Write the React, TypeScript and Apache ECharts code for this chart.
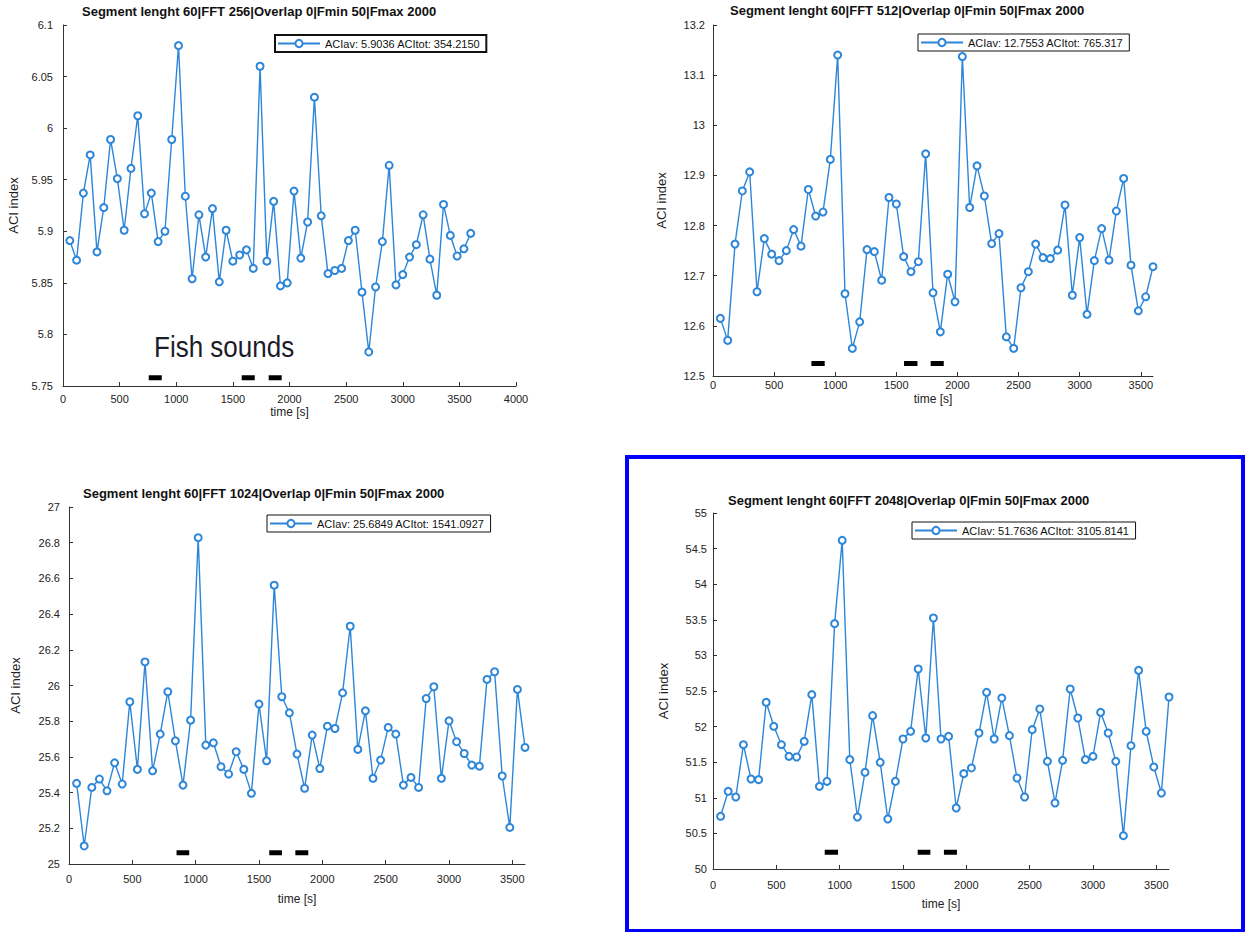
import React, { useEffect, useRef } from "react";
import * as echarts from "echarts";

const times = [60, 120, 180, 240, 300, 360, 420, 480, 540, 600, 660, 720, 780, 840, 900, 960, 1020, 1080, 1140, 1200, 1260, 1320, 1380, 1440, 1500, 1560, 1620, 1680, 1740, 1800, 1860, 1920, 1980, 2040, 2100, 2160, 2220, 2280, 2340, 2400, 2460, 2520, 2580, 2640, 2700, 2760, 2820, 2880, 2940, 3000, 3060, 3120, 3180, 3240, 3300, 3360, 3420, 3480, 3540, 3600];

const aci256 = [5.891, 5.872, 5.937, 5.974, 5.880, 5.923, 5.989, 5.951, 5.901, 5.961, 6.012, 5.917, 5.937, 5.890, 5.900, 5.989, 6.080, 5.934, 5.854, 5.916, 5.875, 5.922, 5.851, 5.901, 5.871, 5.877, 5.882, 5.864, 6.060, 5.871, 5.929, 5.847, 5.850, 5.939, 5.874, 5.909, 6.030, 5.915, 5.859, 5.862, 5.864, 5.891, 5.901, 5.841, 5.783, 5.846, 5.890, 5.964, 5.848, 5.858, 5.875, 5.887, 5.916, 5.873, 5.838, 5.926, 5.896, 5.876, 5.883, 5.898];

const aci512 = [12.615, 12.571, 12.763, 12.869, 12.907, 12.668, 12.774, 12.743, 12.730, 12.750, 12.792, 12.759, 12.872, 12.819, 12.827, 12.932, 13.140, 12.664, 12.555, 12.608, 12.752, 12.748, 12.691, 12.856, 12.843, 12.738, 12.708, 12.728, 12.943, 12.666, 12.588, 12.703, 12.648, 13.137, 12.836, 12.919, 12.859, 12.764, 12.784, 12.578, 12.555, 12.676, 12.708, 12.763, 12.736, 12.734, 12.751, 12.841, 12.661, 12.776, 12.623, 12.730, 12.794, 12.731, 12.829, 12.894, 12.721, 12.630, 12.658, 12.718];

const aci1024 = [25.452, 25.101, 25.429, 25.476, 25.410, 25.567, 25.448, 25.909, 25.530, 26.132, 25.522, 25.728, 25.965, 25.690, 25.442, 25.806, 26.828, 25.666, 25.679, 25.545, 25.504, 25.629, 25.530, 25.396, 25.896, 25.578, 26.562, 25.937, 25.847, 25.616, 25.424, 25.722, 25.535, 25.772, 25.759, 25.959, 26.332, 25.642, 25.858, 25.480, 25.582, 25.765, 25.728, 25.442, 25.485, 25.429, 25.927, 25.993, 25.480, 25.802, 25.685, 25.619, 25.554, 25.548, 26.034, 26.077, 25.493, 25.205, 25.978, 25.653];

const aci2048 = [50.740, 51.091, 51.011, 51.746, 51.264, 51.255, 52.341, 52.004, 51.746, 51.582, 51.573, 51.793, 52.449, 51.161, 51.231, 53.446, 54.616, 51.536, 50.730, 51.358, 52.154, 51.498, 50.702, 51.231, 51.826, 51.934, 52.809, 51.840, 53.525, 51.826, 51.863, 50.857, 51.339, 51.419, 51.910, 52.481, 51.826, 52.402, 51.873, 51.278, 51.011, 51.957, 52.247, 51.512, 50.927, 51.526, 52.528, 52.121, 51.536, 51.583, 52.200, 51.910, 51.512, 50.468, 51.732, 52.790, 51.934, 51.433, 51.067, 52.416];

const titles = [
  "Segment lenght 60|FFT 256|Overlap 0|Fmin 50|Fmax 2000",
  "Segment lenght 60|FFT 512|Overlap 0|Fmin 50|Fmax 2000",
  "Segment lenght 60|FFT 1024|Overlap 0|Fmin 50|Fmax 2000",
  "Segment lenght 60|FFT 2048|Overlap 0|Fmin 50|Fmax 2000",
];

const legendLabels = [
  "ACIav: 5.9036 ACItot: 354.2150",
  "ACIav: 12.7553 ACItot: 765.317",
  "ACIav: 25.6849 ACItot: 1541.0927",
  "ACIav: 51.7636 ACItot: 3105.8141",
];

const yMins = [5.75, 12.5, 25, 50];
const yMaxs = [6.1, 13.2, 27, 55];
const yIntervals = [0.05, 0.1, 0.2, 0.5];
const xMaxs = [4000, 3600, 3600, 3600];
const xInterval = 500;

const fishSounds = [
  [[757, 872], [1578, 1693], [1816, 1931]],
  [[805, 914], [1563, 1673], [1781, 1888]],
  [[849, 949], [1581, 1681], [1787, 1889]],
  [[882, 987], [1616, 1716], [1823, 1926]],
];
const fishLevels = [5.758, 12.525, 25.063, 50.234];

const xAxisName = "time [s]";
const yAxisName = "ACI index";
const annotation = "Fish sounds";

const seriesValues = [aci256, aci512, aci1024, aci2048];

// layout (pixels)
const grids = [
  { left: 63, top: 25, width: 453, height: 361 },
  { left: 713, top: 25, width: 440, height: 351 },
  { left: 69, top: 507, width: 456, height: 357 },
  { left: 713, top: 513, width: 456, height: 356 },
];
const titlePos = [
  { left: 82, top: 5 },
  { left: 730, top: 4 },
  { left: 83, top: 487 },
  { left: 728, top: 494 },
];
const legendPos = [
  { left: 275, top: 35 },
  { left: 918, top: 34 },
  { left: 267, top: 515 },
  { left: 912, top: 522 },
];
const xLabelMargin = [7, 3, 9, 10];
const xNameGap = [20, 17, 29, 29];
const yLabelMargin = [10, 8, 9, 6];
const yNameGap = [43, 45, 47, 43];

const LINE = "#2d86d8";
const FONT = "'Liberation Sans', Arial, sans-serif";

export default function App() {
  const ref = useRef<HTMLDivElement>(null);
  useEffect(() => {
    if (!ref.current) return;
    const chart = echarts.init(ref.current, undefined, { renderer: "svg" });

    const series: any[] = [];
    seriesValues.forEach((vals, i) => {
      series.push({
        name: legendLabels[i],
        type: "line",
        xAxisIndex: i,
        yAxisIndex: i,
        data: times.map((t, k) => [t, vals[k]]),
        symbol: "emptyCircle",
        symbolSize: 7,
        lineStyle: { color: LINE, width: 1.4 },
        itemStyle: { color: LINE, borderColor: LINE, borderWidth: 1.2 },
        z: 3,
      });
      fishSounds[i].forEach((iv) => {
        series.push({
          name: "fish" + i + "_" + iv[0],
          type: "line",
          xAxisIndex: i,
          yAxisIndex: i,
          data: [
            [iv[0], fishLevels[i]],
            [iv[1], fishLevels[i]],
          ],
          symbol: "none",
          silent: true,
          lineStyle: { color: "#000", width: 5, cap: "butt" },
          z: 2,
        });
      });
    });

    const option: any = {
      animation: false,
      backgroundColor: "#fff",
      textStyle: { fontFamily: FONT },
      title: titles.map((t, i) => ({
        text: t,
        left: titlePos[i].left,
        top: titlePos[i].top,
        padding: 0,
        textStyle: { fontSize: 13, fontWeight: "bold", color: "#111", fontFamily: FONT },
      })),
      legend: legendLabels.map((l, i) => ({
        data: [l],
        left: legendPos[i].left,
        top: legendPos[i].top,
        orient: "horizontal",
        borderColor: "#111",
        borderWidth: i === 0 ? 2 : 1,
        padding: [3, 6, 3, 2],
        itemWidth: 42,
        itemHeight: 9,
        itemGap: 4,
        selectedMode: false,
        textStyle: { fontSize: 11, color: "#111", fontFamily: FONT },
      })),
      grid: grids.map((g) => ({ ...g, containLabel: false })),
      xAxis: grids.map((_, i) => ({
        type: "value",
        gridIndex: i,
        min: 0,
        max: xMaxs[i],
        interval: xInterval,
        name: xAxisName,
        nameLocation: "middle",
        nameGap: xNameGap[i],
        nameTextStyle: { fontSize: 12, color: "#222", fontFamily: FONT },
        axisLine: { lineStyle: { color: "#333", width: 1 } },
        axisTick: { inside: true, length: 4, lineStyle: { color: "#333" } },
        axisLabel: {
          margin: xLabelMargin[i],
          fontSize: 11,
          color: "#222",
          fontFamily: FONT,
          showMaxLabel: i === 0 ? true : false,
          formatter: (v: number) => String(v),
        },
        splitLine: { show: false },
      })),
      yAxis: grids.map((_, i) => ({
        type: "value",
        gridIndex: i,
        min: yMins[i],
        max: yMaxs[i],
        interval: yIntervals[i],
        name: yAxisName,
        nameLocation: "middle",
        nameGap: yNameGap[i],
        nameTextStyle: { fontSize: 13, color: "#222", fontFamily: FONT },
        axisLine: { show: true, lineStyle: { color: "#333", width: 1 } },
        axisTick: { show: true, inside: true, length: 4, lineStyle: { color: "#333" } },
        axisLabel: { margin: yLabelMargin[i], fontSize: 11, color: "#222", fontFamily: FONT },
        splitLine: { show: false },
      })),
      graphic: [
        {
          type: "text",
          left: 154,
          top: 332,
          scaleY: 1.12,
          style: {
            text: annotation,
            fontSize: 26,
            fontFamily: FONT,
            fill: "#1c1c28",
          },
        },
        {
          type: "rect",
          shape: { x: 627, y: 457, width: 616, height: 474 },
          style: { fill: "none", stroke: "#0000ff", lineWidth: 4 },
        },
      ],
      series,
    };
    chart.setOption(option);
    return () => chart.dispose();
  }, []);
  return (
    <div
      ref={ref}
      style={{ position: "absolute", left: 0, top: 0, width: 1245, height: 932, background: "#fff" }}
    />
  );
}
